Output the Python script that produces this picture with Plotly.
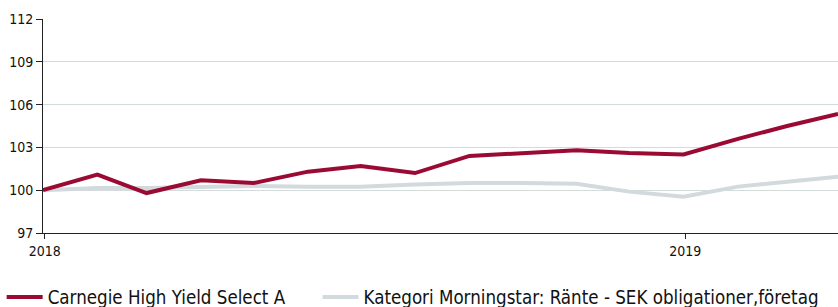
import plotly.graph_objects as go

dates = ["2017-12-31", "2018-01-31", "2018-02-28", "2018-03-31", "2018-04-30",
         "2018-05-31", "2018-06-30", "2018-07-31", "2018-08-31", "2018-09-30",
         "2018-10-31", "2018-11-30", "2018-12-31", "2019-01-31", "2019-02-28",
         "2019-03-29"]
fund = [100, 101.1, 99.8, 100.7, 100.5, 101.3, 101.7, 101.2, 102.4, 102.6,
        102.8, 102.6, 102.5, 103.6, 104.5, 105.35]
category = [100, 100.15, 100.15, 100.25, 100.3, 100.25, 100.25, 100.4, 100.5,
            100.5, 100.45, 99.9, 99.55, 100.25, 100.6, 100.95]
fund_name = "Carnegie High Yield Select A"
cat_name = "Kategori Morningstar: Ränte - SEK obligationer,företag"
y_ticks = [97, 100, 103, 106, 109, 112]
x_ticks = ["2018-01-01", "2019-01-01"]
x_labels = ["2018", "2019"]

fig = go.Figure()
fig.add_trace(go.Scatter(x=dates, y=category, mode="lines", name=cat_name,
                         line=dict(color="#d2dadd", width=4), legend="legend2"))
fig.add_trace(go.Scatter(x=dates, y=fund, mode="lines", name=fund_name,
                         line=dict(color="#9b0a33", width=4), legend="legend"))

legend_font = dict(size=18.6, family="DejaVu Sans Condensed", color="#111")

fig.update_layout(
    width=838, height=307,
    margin=dict(l=43, r=0, t=19, b=74, autoexpand=False),
    paper_bgcolor="white", plot_bgcolor="white",
    font=dict(family="DejaVu Sans Condensed", color="#111"),
    showlegend=True,
    legend=dict(orientation="h", x=-0.052, xanchor="left", y=-0.212, yanchor="top",
                font=legend_font, itemwidth=36, bgcolor="rgba(0,0,0,0)"),
    legend2=dict(orientation="h", x=0.3453, xanchor="left", y=-0.212, yanchor="top",
                 font=legend_font, itemwidth=36, bgcolor="rgba(0,0,0,0)"),
    xaxis=dict(range=[dates[0], dates[-1]], tickvals=x_ticks, ticktext=x_labels,
               showgrid=False, showline=True, linecolor="#222", linewidth=1,
               ticks="outside", ticklen=5, tickcolor="#222",
               tickfont=dict(size=14, family="DejaVu Sans Condensed"), zeroline=False),
    yaxis=dict(range=[97, 112], tickvals=y_ticks, showgrid=True, gridcolor="#d3dbdb",
               gridwidth=1, showline=True, linecolor="#222", linewidth=1,
               ticks="outside", ticklen=6, tickcolor="#222",
               tickfont=dict(size=14, family="DejaVu Sans Condensed"), zeroline=False),
)

fig.write_html("out.html", config={"displayModeBar": False},
               post_script="document.body.style.margin='0';")
